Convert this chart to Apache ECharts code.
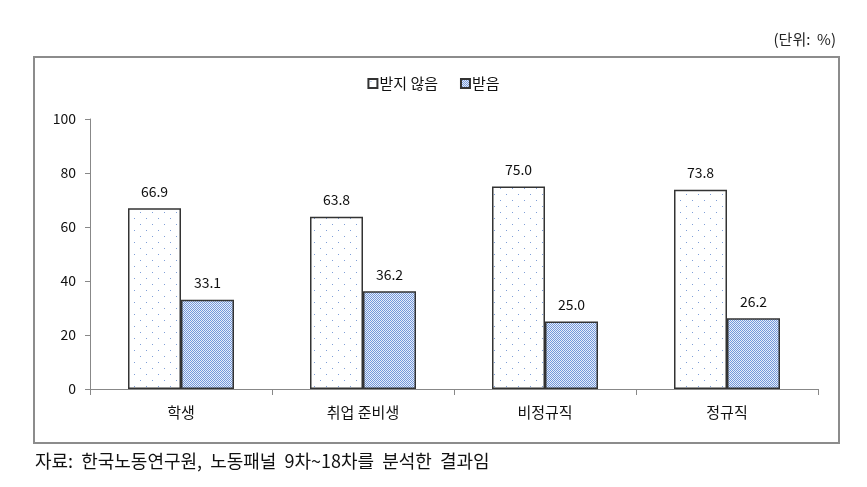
<!DOCTYPE html>
<html>
<head>
<meta charset="utf-8">
<script src="https://cdn.jsdelivr.net/npm/echarts@6/dist/echarts.min.js"></script>
<style>
html,body{margin:0;padding:0;background:#fff;}
#chart{width:867px;height:487px;}
</style>
</head>
<body>
<div id="chart"></div>
<script>
var categories = ['학생', '취업 준비생', '비정규직', '정규직'];
var notReceived = [66.9, 63.8, 75.0, 73.8];
var received = [33.1, 36.2, 25.0, 26.2];
var seriesNames = ['받지 않음', '받음'];
var yTicks = [0, 20, 40, 60, 80, 100];

function dotPattern() {
  var c = document.createElement('canvas');
  c.width = 12; c.height = 12;
  var g = c.getContext('2d');
  g.fillStyle = '#ffffff'; g.fillRect(0, 0, 12, 12);
  g.fillStyle = '#7f9fd8';
  g.fillRect(2, 2, 1, 1);
  g.fillRect(8, 8, 1, 1);
  return c;
}
function gridPattern() {
  var c = document.createElement('canvas');
  c.width = 2; c.height = 2;
  var g = c.getContext('2d');
  g.fillStyle = '#e8eefa'; g.fillRect(0, 0, 2, 2);
  g.fillStyle = '#7398da';
  g.fillRect(0, 0, 1, 1); g.fillRect(1, 1, 1, 1);
  return c;
}

var font = '"Noto Sans CJK KR", "Noto Sans", sans-serif';
var chart = echarts.init(document.getElementById('chart'));
chart.setOption({
  animation: false,
  backgroundColor: '#ffffff',
  textStyle: { fontFamily: font },
  graphic: [
    { type: 'rect', shape: { x: 34, y: 57, width: 805, height: 386 }, style: { fill: 'none', stroke: '#8c8c8c', lineWidth: 2 }, silent: true, z: -1 },
    { type: 'text', right: 31, top: 32, style: { text: '(단위:  %)', font: '15px ' + font, fill: '#222' } },
    { type: 'text', left: 35, top: 452, style: { text: '자료:  한국노동연구원,  노동패널  9차~18차를  분석한  결과임', font: '18px "Noto Sans CJK KR", serif', fill: '#111' } }
  ],
  legend: {
    top: 71, left: 'center',
    itemWidth: 9, itemHeight: 9, itemGap: 22,
    icon: 'rect',
    textStyle: { fontSize: 15, color: '#111', fontFamily: font, padding: [0, 0, 0, -3] },
    data: seriesNames
  },
  grid: { left: 90, right: 49, top: 119, bottom: 98 },
  xAxis: {
    type: 'category',
    data: categories,
    axisLine: { lineStyle: { color: '#888', width: 1 } },
    axisTick: { show: true, length: 6, lineStyle: { color: '#888' } },
    axisLabel: { fontSize: 15, color: '#111', margin: 16, fontFamily: font }
  },
  yAxis: {
    type: 'value', min: 0, max: 100, interval: 20,
    axisLine: { show: true, lineStyle: { color: '#888' } },
    axisTick: { show: true, length: 5, lineStyle: { color: '#888' } },
    splitLine: { show: false },
    axisLabel: { fontSize: 14, color: '#111', margin: 14, fontFamily: font,
      formatter: function (v) { return yTicks.indexOf(v) >= 0 ? String(v) : ''; } }
  },
  series: [
    {
      name: seriesNames[0], type: 'bar', data: notReceived,
      barWidth: 53, barGap: '0%',
      itemStyle: { color: { image: dotPattern(), repeat: 'repeat' }, borderColor: '#333', borderWidth: 1.5 },
      label: { show: true, position: 'top', distance: 10, fontSize: 14, color: '#111', formatter: function (p) { return p.value.toFixed(1); } }
    },
    {
      name: seriesNames[1], type: 'bar', data: received,
      barWidth: 53,
      itemStyle: { color: { image: gridPattern(), repeat: 'repeat' }, borderColor: '#333', borderWidth: 1.5 },
      label: { show: true, position: 'top', distance: 10, fontSize: 14, color: '#111', formatter: function (p) { return p.value.toFixed(1); } }
    }
  ]
});
</script>
</body>
</html>
